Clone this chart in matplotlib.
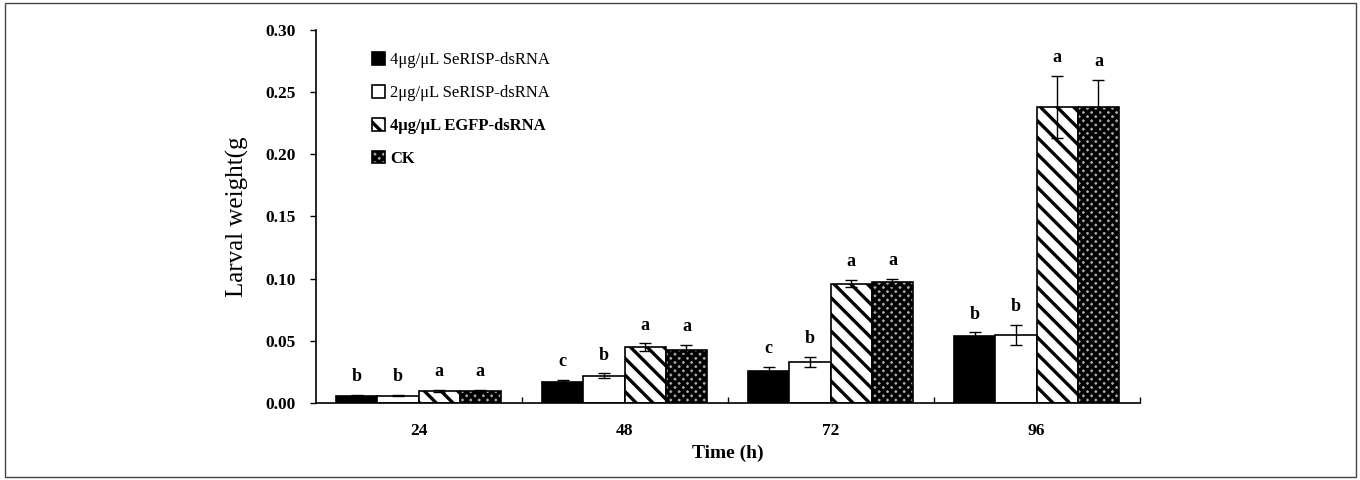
import matplotlib
matplotlib.use("Agg")
import matplotlib.pyplot as plt
import numpy as np
from matplotlib.patches import Rectangle
from matplotlib.ticker import FixedLocator

plt.rcParams['font.family'] = ['Liberation Serif', 'DejaVu Serif']
plt.rcParams['hatch.linewidth'] = 2.4

times = ["24", "48", "72", "96"]
series_names = ["4μg/μL SeRISP-dsRNA", "2μg/μL SeRISP-dsRNA",
                "4μg/μL EGFP-dsRNA", "CK"]
black_vals = [0.006, 0.017, 0.026, 0.054]
white_vals = [0.006, 0.022, 0.033, 0.055]
egfp_vals = [0.010, 0.045, 0.096, 0.238]
ck_vals = [0.010, 0.043, 0.097, 0.238]
black_err = [0.0005, 0.002, 0.003, 0.003]
white_err = [0.0005, 0.002, 0.004, 0.008]
egfp_err = [0.001, 0.003, 0.003, 0.025]
ck_err = [0.001, 0.004, 0.003, 0.022]
black_lab = ["b", "c", "c", "b"]
white_lab = ["b", "b", "b", "b"]
egfp_lab = ["a", "a", "a", "a"]
ck_lab = ["a", "a", "a", "a"]

fig = plt.figure(figsize=(13.6, 4.8), dpi=100)
fig.patches.append(Rectangle((0.004, 0.006), 0.993, 0.988, transform=fig.transFigure,
                             fill=False, edgecolor='#444444', linewidth=1.0))
ax = fig.add_axes([0.232, 0.160, 0.606, 0.778])

x = np.arange(len(times))
w = 0.2
styles = [dict(facecolor='black', edgecolor='black', hatch=None),
          dict(facecolor='white', edgecolor='black', hatch=None),
          dict(facecolor='white', edgecolor='black', hatch='\\\\'),
          dict(facecolor='#a8a8a8', edgecolor='black', hatch='xxxx')]
vals = [black_vals, white_vals, egfp_vals, ck_vals]
errs = [black_err, white_err, egfp_err, ck_err]
labs = [black_lab, white_lab, egfp_lab, ck_lab]

for i in range(4):
    pos = x + (i - 1.5) * w
    st = styles[i]
    ax.bar(pos, vals[i], w, facecolor=st['facecolor'], edgecolor=st['edgecolor'],
           hatch=st['hatch'], linewidth=1.2, label=series_names[i], zorder=2)
    ax.errorbar(pos, vals[i], yerr=errs[i], fmt='none', ecolor='black',
                elinewidth=1.0, capsize=4, capthick=1.0, zorder=3)
    for p, v, e, l in zip(pos, vals[i], errs[i], labs[i]):
        ax.annotate(l, (p, v + e), xytext=(0, 7), textcoords='offset points',
                    ha='center', va='bottom', fontsize=13, fontweight='bold')

ax.set_xlim(-0.5, 3.5)
ax.set_ylim(0, 0.30)
ax.set_yticks(np.arange(0, 0.301, 0.05))
ax.set_yticklabels([f"{v:.2f}" for v in np.arange(0, 0.301, 0.05)],
                   fontsize=12.5, fontweight='bold')
ax.set_xticks(x)
ax.set_xticklabels(times, fontsize=12.5, fontweight='bold')
ax.tick_params(axis='x', which='major', length=0, pad=14)
ax.xaxis.set_minor_locator(FixedLocator([0.5, 1.5, 2.5, 3.5]))
ax.tick_params(axis='x', which='minor', direction='in', length=4, width=1)
ax.tick_params(axis='y', direction='out', length=4, width=1, pad=10)
for s in ['top', 'right']:
    ax.spines[s].set_visible(False)
for s in ['left', 'bottom']:
    ax.spines[s].set_linewidth(1.2)

ax.set_ylabel("Larval weight(g", fontsize=18, labelpad=12)
ax.set_xlabel("Time (h)", fontsize=14, fontweight='bold', labelpad=4)

leg = ax.legend(loc='upper left', bbox_to_anchor=(0.05, 0.98), frameon=False,
                fontsize=12, handlelength=0.8, handleheight=0.8,
                handletextpad=0.3, labelspacing=1.0)
for t in leg.get_texts()[2:]:
    t.set_fontweight('bold')

fig.savefig("out.png", dpi=100)
